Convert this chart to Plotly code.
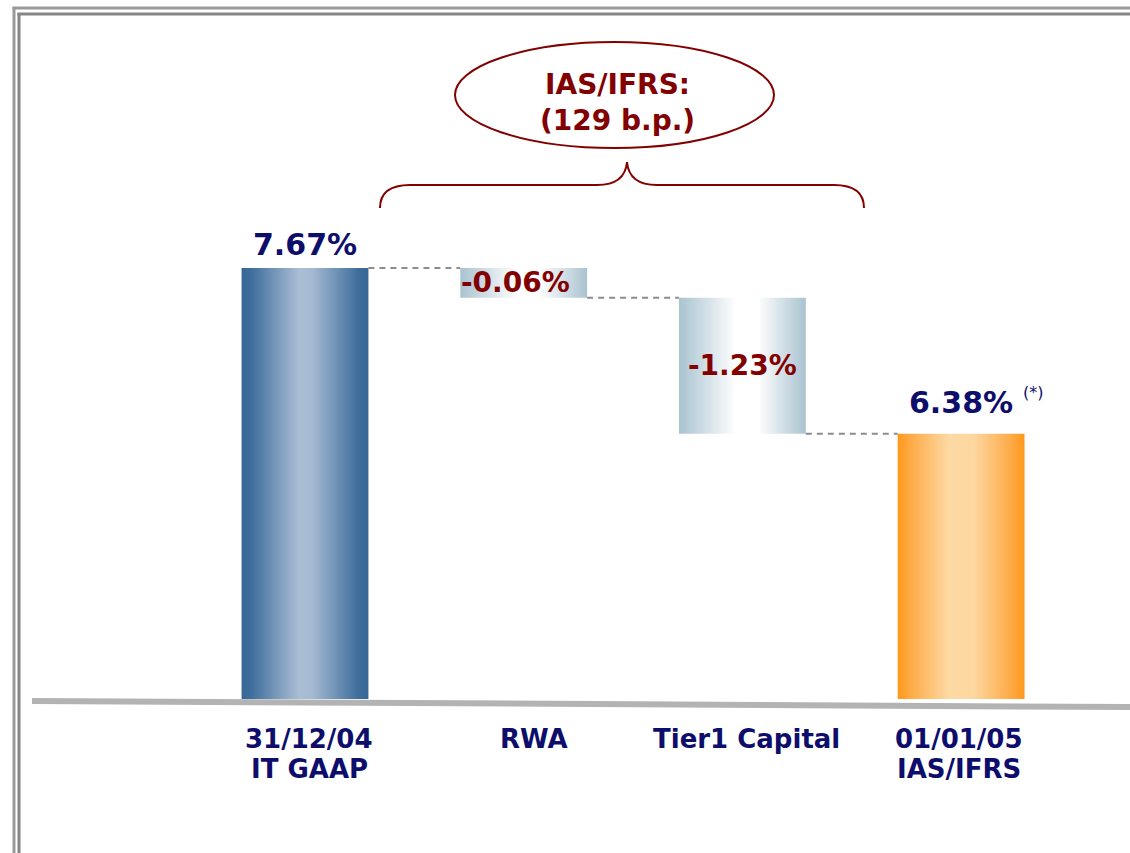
import plotly.graph_objects as go

# ---------------- data ----------------
categories_line1 = ["31/12/04", "RWA", "Tier1 Capital", "01/01/05"]
categories_line2 = ["IT GAAP", "", "", "IAS/IFRS"]
label_values = [7.67, -0.06, -1.23, 6.38]          # printed values (%)
bar_kinds = ["total", "relative", "relative", "total"]
# bar lengths as drawn in the reference (the source is not drawn to scale)
drawn_steps = [7.67, -0.53, -2.42, 4.72]
label_texts = ["7.67%", "-0.06%", "-1.23%", "6.38%"]
footnote_mark = "(*)"
bracket_title = "IAS/IFRS:<br>(129 b.p.)"

# ---------------- styles ----------------
W, H = 1130, 853
NAVY = "#0d0d6b"
DARKRED = "#820000"
FONT = "DejaVu Sans"
BAR_W = 0.58
cat_xshift = [4, 10, 4, -2]
gradients = [
    [[0, "#366696"], [0.08, "#406f9d"], [0.45, "#a9bdd4"], [0.55, "#a6bbd3"], [0.92, "#3f6e9c"], [1, "#366696"]],
    [[0, "#a9c3d0"], [0.45, "#ffffff"], [0.62, "#ffffff"], [1, "#a9c3d0"]],
    [[0, "#a9c3d0"], [0.45, "#ffffff"], [0.62, "#ffffff"], [1, "#a9c3d0"]],
    [[0, "#fe981a"], [0.1, "#feaa45"], [0.4, "#fdd9a3"], [0.6, "#fdd7a0"], [0.9, "#fea944"], [1, "#fe981a"]],
]

# axis mapping (pixels): x center of first bar ~305, spacing ~218.7; y zero at 699, 56.2 px/unit
X_RANGE = [-305 / 218.7, (W - 305) / 218.7]
Y_RANGE = [(699 - H) / 56.2, 699 / 56.2]


def px(x):
    return x / W


def py(y):
    return 1 - y / H


fig = go.Figure()

# compute waterfall extents
level = 0.0
bases, tops = [], []
for kind, step in zip(bar_kinds, drawn_steps):
    if kind == "total":
        b, t = 0.0, step
        level = step
    else:
        b, t = level + step, level
        level = level + step
    bases.append(b)
    tops.append(t)

for i in range(len(drawn_steps)):
    x0, x1 = i - BAR_W / 2, i + BAR_W / 2
    fig.add_trace(go.Scatter(
        x=[x0, x1, x1, x0, x0], y=[bases[i], bases[i], tops[i], tops[i], bases[i]],
        mode="lines", line=dict(width=0), fill="toself",
        fillgradient=dict(type="horizontal", colorscale=gradients[i], start=x0, stop=x1),
        hoverinfo="skip", showlegend=False))

# dashed connectors
for i in range(len(drawn_steps) - 1):
    lvl = bases[i] if bar_kinds[i] == "relative" else tops[i]
    if bar_kinds[i + 1] == "total":
        lvl = tops[i + 1]
    fig.add_trace(go.Scatter(
        x=[i + BAR_W / 2, i + 1 - BAR_W / 2], y=[lvl, lvl], mode="lines",
        line=dict(color="#8c8c8c", width=2, dash="6px,5px"),
        hoverinfo="skip", showlegend=False))

annotations = []
# value labels
for i, txt in enumerate(label_texts):
    if bar_kinds[i] == "total":
        annotations.append(dict(x=i, y=tops[i], text=f"<b>{txt}</b>", showarrow=False,
                                yanchor="middle", yshift=23 if i == 0 else 31,
                                font=dict(family=FONT, size=30, color=NAVY)))
    else:
        annotations.append(dict(x=i, y=(tops[i] + bases[i]) / 2, text=f"<b>{txt}</b>", showarrow=False,
                                yanchor="middle", xshift=-8 if i == 1 else 0,
                                font=dict(family=FONT, size=28, color=DARKRED)))
annotations.append(dict(x=3, y=tops[3], text=footnote_mark, showarrow=False, yanchor="middle",
                        xshift=72, yshift=41, font=dict(family=FONT, size=16, color=NAVY)))

# category labels (two lines each)
for i, (l1, l2) in enumerate(zip(categories_line1, categories_line2)):
    annotations.append(dict(x=i, y=py(722), yref="paper", text=f"<b>{l1}</b>", showarrow=False,
                            yanchor="top", xshift=cat_xshift[i],
                            font=dict(family=FONT, size=26, color=NAVY)))
    if l2:
        annotations.append(dict(x=i, y=py(752), yref="paper", text=f"<b>{l2}</b>", showarrow=False,
                                yanchor="top", xshift=cat_xshift[i],
                                font=dict(family=FONT, size=26, color=NAVY)))

# bracket title
annotations.append(dict(x=px(617), y=py(103), xref="paper", yref="paper", text=f"<b>{bracket_title}</b>",
                        showarrow=False, yanchor="middle",
                        font=dict(family=FONT, size=28, color=DARKRED)))

shapes = []
# frame
FR = "#858585"
shapes += [
    dict(type="line", xref="paper", yref="paper", x0=px(14), x1=px(14), y0=py(7), y1=0, line=dict(color="#999999", width=3)),
    dict(type="line", xref="paper", yref="paper", x0=px(12.5), x1=1, y0=py(8), y1=py(8), line=dict(color="#999999", width=3)),
    dict(type="line", xref="paper", yref="paper", x0=px(19), x1=px(19), y0=py(13), y1=0, line=dict(color=FR, width=3)),
    dict(type="line", xref="paper", yref="paper", x0=px(17.5), x1=1, y0=py(14), y1=py(14), line=dict(color=FR, width=3)),
]
# baseline
shapes.append(dict(type="line", xref="paper", yref="paper", x0=px(32), x1=1, y0=py(701), y1=py(707),
                   line=dict(color="#b3b3b3", width=6)))
# ellipse
shapes.append(dict(type="circle", xref="paper", yref="paper", x0=px(455), x1=px(774), y0=py(148), y1=py(42),
                   line=dict(color=DARKRED, width=2)))
# brace
pts = [(380, 208), (380, 185), (410, 185), (597, 185), (625, 185), (627, 162),
       (629, 185), (657, 185), (834, 185), (864, 185), (864, 208)]
P = [f"{px(a):.5f},{py(b):.5f}" for a, b in pts]
path = (f"M {P[0]} Q {P[1]} {P[2]} L {P[3]} Q {P[4]} {P[5]} "
        f"Q {P[6]} {P[7]} L {P[8]} Q {P[9]} {P[10]}")
shapes.append(dict(type="path", xref="paper", yref="paper", path=path, line=dict(color=DARKRED, width=2)))

fig.update_layout(
    width=W, height=H, margin=dict(l=0, r=0, t=0, b=0, pad=0),
    paper_bgcolor="white", plot_bgcolor="white",
    xaxis=dict(range=X_RANGE, visible=False, fixedrange=True),
    yaxis=dict(range=Y_RANGE, visible=False, fixedrange=True),
    annotations=annotations, shapes=shapes, showlegend=False,
)
fig.write_html("out.html", config=dict(displayModeBar=False),
               post_script="document.body.style.margin='0';document.body.style.overflow='hidden';")
